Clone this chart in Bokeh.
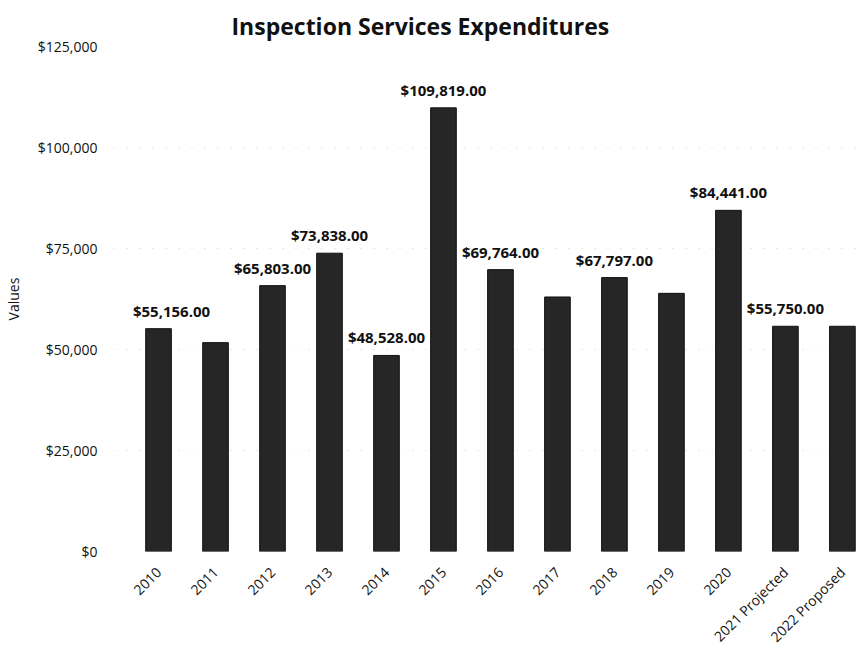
import math
from bokeh.plotting import figure
from bokeh.models import ColumnDataSource, LabelSet, Range1d, FixedTicker, NumeralTickFormatter
from bokeh.core.properties import value
from bokeh.embed import file_html
from bokeh.resources import INLINE

categories = ["2010", "2011", "2012", "2013", "2014", "2015", "2016", "2017",
              "2018", "2019", "2020", "2021 Projected", "2022 Proposed"]
expenditures = [55156, 51700, 65803, 73838, 48528, 109819, 69764, 63000,
                67797, 63900, 84441, 55750, 55750]
label_shown = [True, False, True, True, True, True, True, False,
               True, False, True, True, False]
y_ticks = [0, 25000, 50000, 75000, 100000, 125000]

label_nudge = {0: 13}

idx = list(range(len(categories)))
labels = [("${:,.2f}".format(v) if s else "") for v, s in zip(expenditures, label_shown)]
nudges = [label_nudge.get(i, 0) for i in idx]

src = ColumnDataSource(dict(x=idx, top=expenditures, label=labels, nudge=nudges))

p = figure(frame_width=746, frame_height=505, output_backend="svg", toolbar_location=None,
           x_range=Range1d(-0.79, len(categories) - 0.7), y_range=Range1d(0, 125000),
           min_border_left=104, min_border_right=2, min_border_top=46, min_border_bottom=60)

p.title.text = "Inspection Services Expenditures"
p.title.text_font = "Open Sans"
p.title.text_font_size = "23px"
p.title.text_font_style = "bold"
p.title.text_color = "#111111"
p.title.align = "left"
p.title.offset = 118

p.vbar(x="x", top="top", width=0.45, source=src, fill_color="#262626",
       line_color="#111111", line_width=1)

p.add_layout(LabelSet(x="x", y="top", text="label", source=src, x_offset="nudge", y_offset=12,
                      text_align="center", text_baseline="alphabetic",
                      text_font=value("Open Sans"), text_font_size=value("15px"),
                      text_font_style=value("bold"),
                      text_color="#111111", background_fill_color="white"))

p.xaxis.ticker = FixedTicker(ticks=idx)
p.xaxis.major_label_overrides = {i: c for i, c in zip(idx, categories)}
p.xaxis.major_label_orientation = math.pi / 4
p.yaxis.ticker = FixedTicker(ticks=y_ticks)
p.yaxis.formatter = NumeralTickFormatter(format="$0,0")
p.yaxis.axis_label = "Values"
p.yaxis.axis_label_text_font = "Open Sans"
p.yaxis.axis_label_text_font_style = "normal"
p.yaxis.axis_label_text_font_size = "14px"
p.yaxis.axis_label_text_color = "#111111"
p.yaxis.axis_label_standoff = 12
for ax in (p.xaxis, p.yaxis):
    ax.axis_line_color = None
    ax.major_tick_line_color = None
    ax.minor_tick_line_color = None
    ax.major_label_text_font = "Open Sans"
    ax.major_label_text_font_size = "14px"
    ax.major_label_text_color = "#111111"
p.yaxis.major_label_standoff = 10
p.xaxis.major_label_standoff = 12

p.xgrid.grid_line_color = None
p.ygrid.grid_line_color = "#d0d0d0"
p.ygrid.grid_line_dash = "1 12"
p.outline_line_color = None

open("out.html", "w").write(file_html(p, INLINE))
